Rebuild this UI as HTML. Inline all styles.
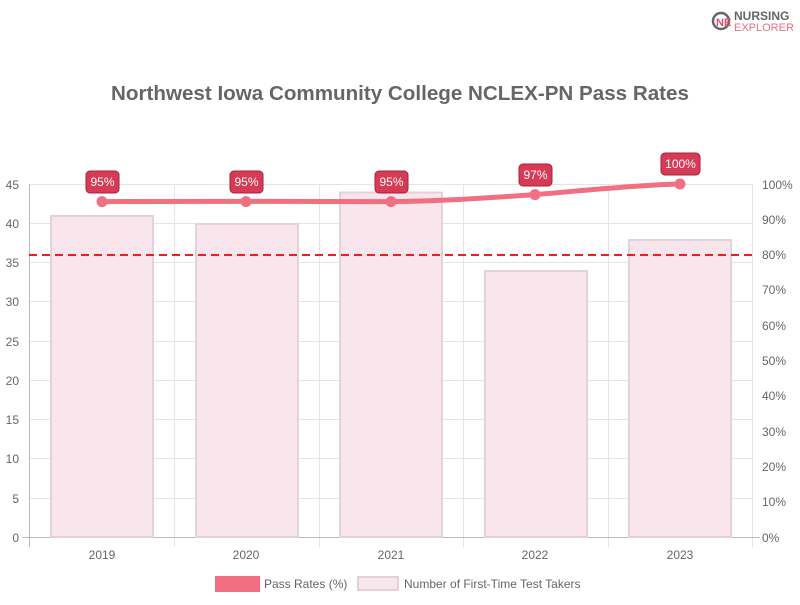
<!DOCTYPE html>
<html><head><meta charset="utf-8"><style>
body{margin:0;background:#fff;width:800px;height:600px;overflow:hidden}
svg{font-family:"Liberation Sans",sans-serif}
</style></head><body>
<svg width="800" height="600" xmlns="http://www.w3.org/2000/svg">
<circle cx="721" cy="21" r="8" fill="none" stroke="#666" stroke-width="2.5"/>
<text x="716" y="26" font-size="11" font-weight="bold" fill="#e0506a">NE</text>
<text x="734" y="20" font-size="12" font-weight="bold" fill="#666">NURSING</text>
<text x="734" y="31" font-size="11" fill="#e87080">EXPLORER</text>
<text x="400" y="100" text-anchor="middle" font-size="20.6" font-weight="bold" fill="#666">Northwest Iowa Community College NCLEX-PN Pass Rates</text>
<g stroke="#e5e5e5" stroke-width="1">
<line x1="29" x2="752" y1="184.5" y2="184.5"/><line x1="29" x2="752" y1="223.5" y2="223.5"/><line x1="29" x2="752" y1="262.5" y2="262.5"/><line x1="29" x2="752" y1="301.5" y2="301.5"/><line x1="29" x2="752" y1="341.5" y2="341.5"/><line x1="29" x2="752" y1="380.5" y2="380.5"/><line x1="29" x2="752" y1="419.5" y2="419.5"/><line x1="29" x2="752" y1="458.5" y2="458.5"/><line x1="29" x2="752" y1="498.5" y2="498.5"/>
<line x1="174.5" x2="174.5" y1="184" y2="547"/><line x1="319.5" x2="319.5" y1="184" y2="547"/><line x1="463.5" x2="463.5" y1="184" y2="547"/><line x1="608.5" x2="608.5" y1="184" y2="547"/><line x1="752.5" x2="752.5" y1="184" y2="547"/>
</g>
<line x1="29.5" x2="29.5" y1="184" y2="547" stroke="#bbb"/>
<line x1="22" x2="760" y1="537.5" y2="537.5" stroke="#bbb"/>
<g fill="#f8e6ec" stroke="#e3d3d8" stroke-width="2">
<rect x="51" y="216" width="102" height="321"/>
<rect x="196" y="224" width="102" height="313"/>
<rect x="340" y="192.5" width="102" height="344.5"/>
<rect x="485" y="271" width="102" height="266"/>
<rect x="629" y="240" width="102" height="297"/>
</g>
<line x1="29" x2="752" y1="255" y2="255" stroke="#ee1c25" stroke-width="2" stroke-dasharray="8,5"/>
<path d="M102,201.6 C160,201.6 300,201 391,201.6 C450,201 500,197 535,194.6 C590,190 640,185 680,184" fill="none" stroke="#f07082" stroke-width="5"/>
<g fill="#f07082"><circle cx="102" cy="201.6" r="5.5"/><circle cx="246" cy="201.6" r="5.5"/><circle cx="391" cy="201.6" r="5.5"/><circle cx="535" cy="194.6" r="5.5"/><circle cx="680" cy="184" r="5.5"/></g>
<g fill="#d63a55" stroke="#a8223a" stroke-width="1">
<rect x="86" y="171" width="33" height="22" rx="4"/><rect x="230" y="171" width="33" height="22" rx="4"/><rect x="375" y="171" width="33" height="22" rx="4"/><rect x="519" y="164" width="33" height="22" rx="4"/><rect x="661" y="153" width="39" height="22" rx="4"/>
</g>
<g fill="#fff" font-size="12" text-anchor="middle">
<text x="102.5" y="186">95%</text><text x="246.5" y="186">95%</text><text x="391.5" y="186">95%</text><text x="535.5" y="179">97%</text><text x="680.5" y="168">100%</text>
</g>
<g fill="#666" font-size="12" text-anchor="end">
<text x="19" y="189">45</text><text x="19" y="228">40</text><text x="19" y="267">35</text><text x="19" y="306">30</text><text x="19" y="346">25</text><text x="19" y="385">20</text><text x="19" y="424">15</text><text x="19" y="463">10</text><text x="19" y="503">5</text><text x="19" y="542">0</text>
</g>
<g fill="#666" font-size="12">
<text x="762" y="189">100%</text><text x="762" y="224">90%</text><text x="762" y="259">80%</text><text x="762" y="294">70%</text><text x="762" y="330">60%</text><text x="762" y="365">50%</text><text x="762" y="400">40%</text><text x="762" y="436">30%</text><text x="762" y="471">20%</text><text x="762" y="506">10%</text><text x="762" y="542">0%</text>
</g>
<g fill="#666" font-size="12" text-anchor="middle">
<text x="102" y="559">2019</text><text x="246" y="559">2020</text><text x="391" y="559">2021</text><text x="535" y="559">2022</text><text x="680" y="559">2023</text>
</g>
<rect x="215" y="576" width="45" height="16" fill="#f07082"/>
<text x="264" y="588" font-size="12" fill="#666">Pass Rates (%)</text>
<rect x="358" y="577" width="40" height="13" fill="#f8e6ec" stroke="#e3d3d8" stroke-width="2"/>
<text x="404" y="588" font-size="12" fill="#666">Number of First-Time Test Takers</text>
</svg>
</body></html>
